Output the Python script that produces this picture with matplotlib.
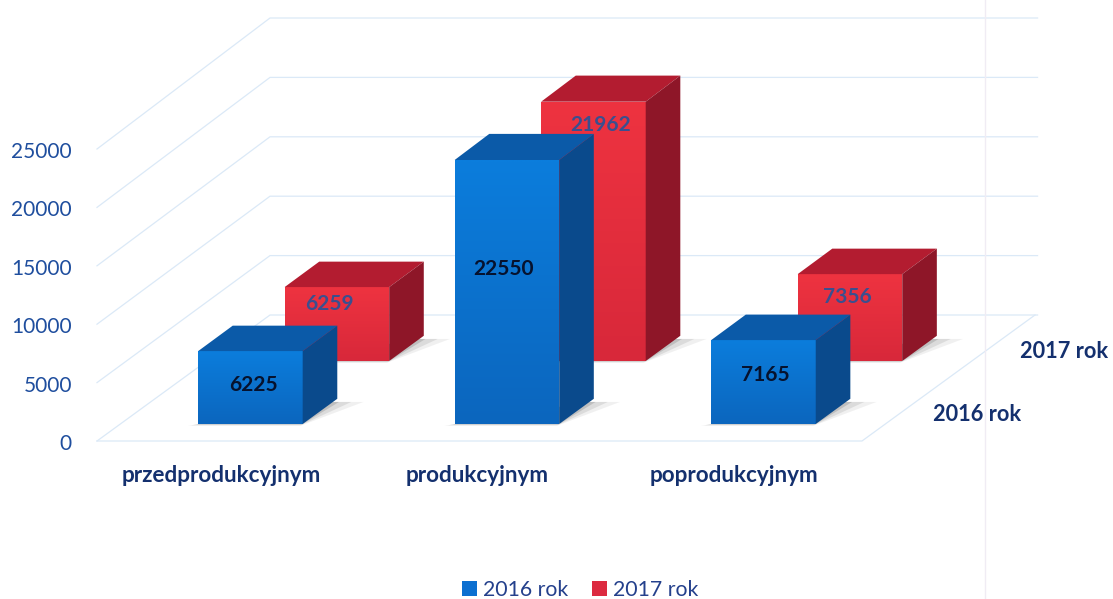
import numpy as np
import matplotlib
matplotlib.use('Agg')
import matplotlib.pyplot as plt
from matplotlib.patches import Polygon, Patch

plt.rcParams['font.family'] = ['Lato', 'DejaVu Sans']

categories = ['przedprodukcyjnym', 'produkcyjnym', 'poprodukcyjnym']
series_names = ['2016 rok', '2017 rok']
values_2016 = [6225, 22550, 7165]
values_2017 = [6259, 21962, 7356]
y_ticks = [0, 5000, 10000, 15000, 20000, 25000]

# oblique projection of (category, depth, value) to figure pixels
X0, Y0 = 97, 441
CAT_W, DEPTH_X, DEPTH_Y = 255, 86.5, 63
BAR_U, BAR_D = 0.205, 0.2

def proj(u, d, v):
    scale = 0.01168 + 0.0001 * d
    return (X0 + CAT_W * u + DEPTH_X * d, Y0 - DEPTH_Y * d - v * scale)

GRID = '#dbe9f7'
NAVY = '#14306e'

fig = plt.figure(figsize=(11.13, 5.99), dpi=100)
ax = fig.add_axes([0, 0, 1, 1])

# walls and floor
for v in y_ticks:
    a, b, c = proj(0, 0, v), proj(0, 2, v), proj(3.01, 2, v)
    ax.plot([a[0], b[0], c[0]], [a[1], b[1], c[1]], color=GRID, lw=0.9, zorder=1)
f = [proj(0, 0, 0), proj(3, 0, 0), proj(3, 2, 0)]
ax.plot([p[0] for p in f], [p[1] for p in f], color=GRID, lw=0.9, zorder=1)

# scanner streak
ax.plot([985, 985], [0, 599], color='#f0ecf4', lw=1, zorder=1)

def shaded(xs, ys, top, bottom, z):
    poly = Polygon(list(zip(xs, ys)), closed=True, transform=ax.transData, fc='none', ec='none', zorder=z)
    ax.add_patch(poly)
    grad = np.linspace(0, 1, 64).reshape(-1, 1, 1)
    t = np.array(matplotlib.colors.to_rgb(top)).reshape(1, 1, 3)
    b = np.array(matplotlib.colors.to_rgb(bottom)).reshape(1, 1, 3)
    img = ax.imshow(t + (b - t) * grad, extent=[min(xs), max(xs), max(ys), min(ys)],
                    aspect='auto', zorder=z, interpolation='bilinear')
    img.set_clip_path(poly)

def draw_bar(i, depth, v, cols, base_z):
    mid = 0.51 + i * 1.006
    u1, u2 = mid - BAR_U, mid + BAR_U
    d1, d2 = depth + 0.47 - BAR_D, depth + 0.47 + BAR_D
    # soft shadow on the floor
    for grow, alpha in ((0.03, 0.12), (0.018, 0.2), (0.006, 0.35)):
        sh = [proj(u1 - grow, d1 - grow, 0), proj(u2, d1 - grow, 0), proj(u2 + grow * 4, d2 - 0.05, 0), proj(u2, d2 - 0.05, 0)]
        ax.add_patch(Polygon(sh, closed=True, fc='#8a8a8a', ec='none', alpha=alpha, zorder=base_z))
    fl, fr = proj(u1, d1, 0), proj(u2, d1, 0)
    ftl, ftr = proj(u1, d1, v), proj(u2, d1, v)
    br, btr, btl = proj(u2, d2, 0), proj(u2, d2, v), proj(u1, d2, v)
    shaded([fl[0], fr[0], ftr[0], ftl[0]], [fl[1], fr[1], ftr[1], ftl[1]], cols[0], cols[1], base_z + 1)
    ax.add_patch(Polygon([ftl, ftr, btr, btl], closed=True, fc=cols[2], ec='none', zorder=base_z + 1))
    ax.add_patch(Polygon([fr, br, btr, ftr], closed=True, fc=cols[3], ec='none', zorder=base_z + 1))
    return ftl, ftr

blue = ('#0b7ddc', '#0c66be', '#0b5aa8', '#0a4a8c')
red = ('#ee3340', '#d8283a', '#b31c30', '#8e1628')
label_drop_2016 = [33, 108, 34]
label_drop_2017 = [16, 22, 22]
label_dx_2016 = [3, -3, 2]
label_dx_2017 = [-7, 7, -3]

for i in range(3):
    tl, tr = draw_bar(i, 1, values_2017[i], red, 3)
    ax.text((tl[0] + tr[0]) / 2 + label_dx_2017[i], tl[1] + label_drop_2017[i] + 1, str(values_2017[i]), color='#3a4f8f',
            fontsize=15, fontweight='bold', ha='center', va='center', zorder=6)
for i in range(3):
    tl, tr = draw_bar(i, 0, values_2016[i], blue, 7)
    ax.text((tl[0] + tr[0]) / 2 + label_dx_2016[i], tl[1] + label_drop_2016[i] + 1, str(values_2016[i]), color='#06122e',
            fontsize=15, fontweight='bold', ha='center', va='center', zorder=10)

# axis labels
for v in y_ticks:
    ax.text(72, proj(0, 0, v)[1] + 3, str(v), color='#1f4e9e', fontsize=15, ha='right', va='center')
for i, c in enumerate(categories):
    ax.text(proj(i + 0.5, 0, 0)[0] - 3 + i, 475, c, color=NAVY, fontsize=16.2, fontweight='bold', ha='center', va='center')
for d, name in enumerate(series_names):
    p = proj(3, d + 0.5, 0)
    ax.text(p[0] + 72, p[1] + 5, name, color=NAVY, fontsize=15.7, fontweight='bold', ha='center', va='center')

handles = [Patch(fc='#0c6fd0', label=series_names[0]), Patch(fc='#dc2a40', label=series_names[1])]
ax.legend(handles=handles, ncol=2, loc='center', bbox_to_anchor=(580 / 1113, 1 - 590 / 599), frameon=False,
          fontsize=15.3, labelcolor='#24408c', handlelength=0.7, handleheight=0.7, handletextpad=0.3, columnspacing=1.1)

ax.set_xlim(0, 1113)
ax.set_ylim(599, 0)
ax.axis('off')
plt.savefig('out.png', dpi=100)
